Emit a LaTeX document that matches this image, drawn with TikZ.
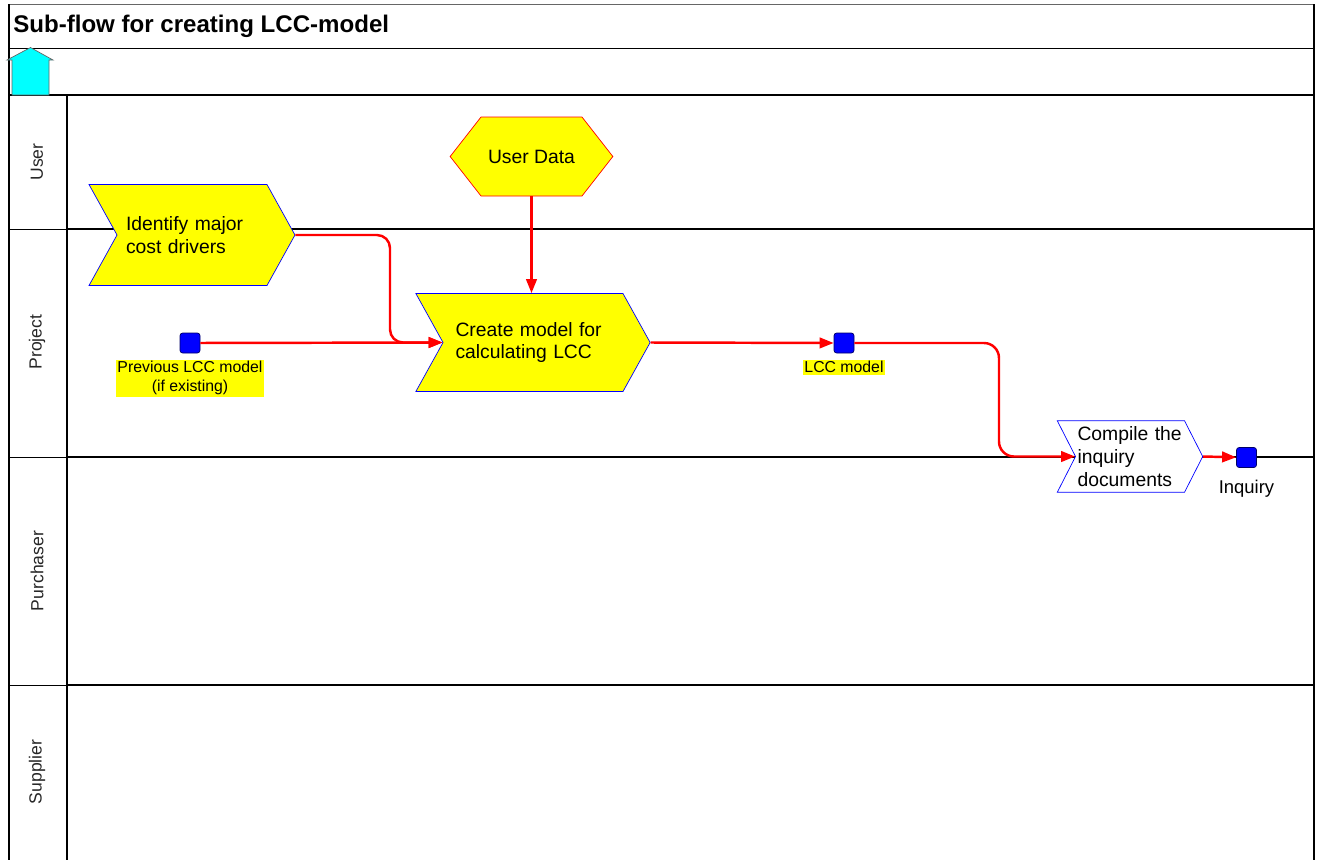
\documentclass[tikz,border=0pt]{standalone}
\usepackage{fontspec}
\setmainfont{Liberation Sans}
\usetikzlibrary{arrows.meta,positioning,shapes.symbols}
\definecolor{procyellow}{HTML}{FFFF00}
\definecolor{datablue}{HTML}{0000FF}
\definecolor{flowred}{HTML}{FF0000}
\definecolor{navcyan}{HTML}{00FFFF}

\begin{document}
\begin{tikzpicture}[x=0.02cm,y=-0.02cm,
  lane/.style={line width=1.1pt},
  thinlane/.style={line width=0.5pt},
  task/.style={signal,signal from=west,signal to=east,draw=datablue,fill=procyellow,
    line width=0.4pt,align=left,font=\fontsize{11}{13}\selectfont},
  event/.style={signal,signal to=west and east,draw=flowred,fill=procyellow,
    line width=0.4pt,align=center,font=\fontsize{11}{13}\selectfont},
  datum/.style={rectangle,rounded corners=1.5pt,draw=black!60!datablue,fill=datablue,
    minimum size=0.4cm,inner sep=0pt},
  tag/.style={fill=procyellow,inner sep=1pt,align=center,font=\fontsize{9}{10.8}\selectfont},
  flow/.style={draw=flowred,line width=1.4pt,-{Triangle[length=8pt,width=6pt]}},
  lanename/.style={rotate=90,font=\fontsize{10}{12}\selectfont,text=black!85}]
\useasboundingbox (0,0) rectangle (1322,860);

% frame, header and swimlanes
\draw[thinlane,black!60] (9,4) -- (1314,4);
\draw[thinlane] (9,48) -- (1314,48);
\draw[lane] (9,95) -- (1314,95);
\draw[lane] (9,4) -- (9,860);
\draw[lane] (1314,4) -- (1314,860);
\draw[lane] (67,95) -- (67,860);
\foreach \y in {229,457,685} {
  \draw[thinlane] (9,\y) -- (67,\y);
  \draw[lane] (67,\y) -- (1314,\y);
}
\node[anchor=west,inner sep=0pt,font=\bfseries\fontsize{13.7}{16}\selectfont] (title) at (13,26) {Sub-flow for creating LCC-model};
\draw[fill=navcyan,draw=black!60,line width=0.4pt] (12,95) -- (12,60) -- (7,60) -- (30.5,47.5) -- (53,60) -- (49,60) -- (49,95) -- cycle;
\foreach \name/\y in {User/162,Project/342,Purchaser/571,Supplier/772}
  \node[lanename] (\name) at (37,\y) {\name};

% functions, events and data
\node[event,inner xsep=0.14cm,minimum height=1.58cm,signal pointer angle=104] (userdata) at (531.5,156.5) {User Data};
\node[task,text width=2.64cm,inner xsep=0.18cm,minimum height=2.02cm,signal pointer angle=122] (identify) at (192,235) {Identify major\\cost drivers};
\node[task,text width=3.1cm,inner xsep=0.25cm,minimum height=1.96cm,signal pointer angle=122] (create) at (533,342.5) {Create model for\\calculating LCC};
\node[task,fill=white,text width=2.1cm,inner xsep=0.04cm,minimum height=1.4cm,signal pointer angle=126] (compile) at (1130,456.5) {Compile the\\inquiry\\documents};

\node[datum] (prev) at (190,343) {};
\node[tag,below=0.12cm of prev] (prevtag) {Previous LCC model\\(if existing)};
\node[datum] (lcc) at (844,343) {};
\node[tag,below=0.12cm of lcc] (lcctag) {LCC model};
\node[datum] (inquiry) at (1246.5,457.5) {};
\node[below=0.2cm of inquiry,inner sep=1pt,font=\fontsize{10.5}{12}\selectfont] (inquirytag) {Inquiry};

% control flow
\coordinate (merge) at (390,342.5);
\coordinate (drop) at (999,400);
\draw[flow] (userdata.south) -- (userdata.south |- create.north);
\draw[flow] (prev) -- (create.west);
\draw[flow,rounded corners=0.26cm] (identify.east) -| (merge) -- (create.west);
\draw[flow] (create.east) -- (lcc);
\draw[flow,rounded corners=0.3cm] (lcc) -| (drop) |- (compile.west);
\draw[flow] (compile.east) -- (inquiry);
\end{tikzpicture}
\end{document}
